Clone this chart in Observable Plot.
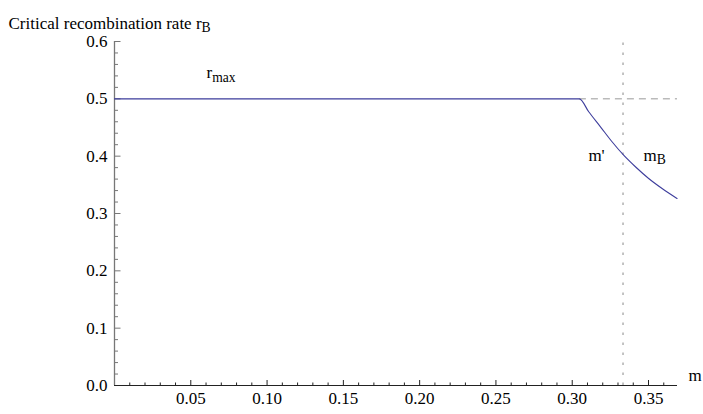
<!DOCTYPE html>
<html>
<head>
<meta charset="utf-8">
<script src="https://cdn.jsdelivr.net/npm/d3@7"></script>
<script src="https://cdn.jsdelivr.net/npm/@observablehq/plot@0.6"></script>
<style>
  html, body { margin: 0; padding: 0; background: #fff; }
  #chart svg { display: block; }
  #chart svg, #chart svg text, #chart svg g { font-family: "Liberation Serif", "Times New Roman", serif !important; }
</style>
</head>
<body>
<div id="chart"></div>
<script>
// ---- data ----
const titleText = "Critical recombination rate r_B";
const xLabelText = "m";
const curveM = [0, 0.3047, 0.3108, 0.3185, 0.3261, 0.3337, 0.3414, 0.3501, 0.3589, 0.3687];
const curveR = [0.5, 0.5, 0.4774, 0.4512, 0.4251, 0.4017, 0.3815, 0.3611, 0.3436, 0.3262];
const rMax = 0.5;
const mPrime = 0.3047;
const mB = 0.3333;
const xMax = 0.369;
const yMax = 0.6;
const xMajorTicks = [0.05, 0.10, 0.15, 0.20, 0.25, 0.30, 0.35];
const xMinorTicks = [0.01,0.02,0.03,0.04,0.06,0.07,0.08,0.09,0.11,0.12,0.13,0.14,0.16,0.17,0.18,0.19,0.21,0.22,0.23,0.24,0.26,0.27,0.28,0.29,0.31,0.32,0.33,0.34,0.36];
const yMajorTicks = [0.0, 0.1, 0.2, 0.3, 0.4, 0.5, 0.6];
const yMinorTicks = [0.02,0.04,0.06,0.08,0.12,0.14,0.16,0.18,0.22,0.24,0.26,0.28,0.32,0.34,0.36,0.38,0.42,0.44,0.46,0.48,0.52,0.54,0.56,0.58];
const labelText = ["r_max", "m'", "m_B"];
const labelM = [0.0603, 0.3106, 0.3467];
const labelR = [0.545, 0.401, 0.401];

const curve = curveM.map((m, i) => ({m, r: curveR[i]}));
const labels = labelText.map((t, i) => ({t, m: labelM[i], r: labelR[i]}));

const FONT = "'Liberation Serif', 'Times New Roman', serif";
const axisGray = "#777";

const svg = Plot.plot({
  width: 703,
  height: 414,
  marginLeft: 114,
  marginRight: 26,
  marginTop: 41,
  marginBottom: 29,
  style: {fontFamily: FONT, fontSize: "17px", color: "#000", background: "#fff", overflow: "visible"},
  x: {domain: [0, xMax]},
  y: {domain: [0, yMax]},
  marks: [
    // axis tick labels
    Plot.axisY({ticks: yMajorTicks, tickSize: 0, tickPadding: 7, tickFormat: d3.format(".1f"), label: null, fontSize: 17, fontFamily: FONT}),
    Plot.axisX({ticks: xMajorTicks, tickSize: 0, tickPadding: 6, tickFormat: d3.format(".2f"), label: null, fontSize: 17, fontFamily: FONT}),
    // y ticks (pointing right)
    Plot.ruleY(yMajorTicks, {y: d => d, x1: 0, x2: 0, insetRight: -6.5, stroke: axisGray, strokeWidth: 1}),
    Plot.ruleY(yMinorTicks, {y: d => d, x1: 0, x2: 0, insetRight: -4, stroke: axisGray, strokeWidth: 1}),
    // x ticks (pointing up)
    Plot.ruleX(xMajorTicks, {x: d => d, y1: 0, y2: 0, insetTop: -5, stroke: "#222", strokeWidth: 1}),
    Plot.ruleX(xMinorTicks, {x: d => d, y1: 0, y2: 0, insetTop: -2.5, stroke: "#222", strokeWidth: 1}),
    // axis lines
    Plot.ruleX([0], {stroke: axisGray, strokeWidth: 1.3}),
    Plot.ruleY([0], {stroke: "#222", strokeWidth: 1.1}),
    // reference lines
    Plot.ruleY([rMax], {x1: mPrime, x2: xMax, stroke: "#999", strokeWidth: 1, strokeDasharray: "7,5"}),
    Plot.ruleX([mB], {y1: 0, y2: yMax, stroke: "#888", strokeWidth: 1, strokeDasharray: "2.5,7.5"}),
    // curve
    Plot.line(curve, {x: "m", y: "r", stroke: "#3d3d9c", strokeWidth: 1.1, curve: "monotone-x"}),
    // annotations
    Plot.text(labels, {x: "m", y: "r", text: "t", textAnchor: "start", fontSize: 17, fontFamily: FONT, fill: "#000"}),
    Plot.text([xLabelText], {frameAnchor: "bottom-right", text: d => d, dx: 11, dy: -4.5, textAnchor: "start", fontSize: 17, fontFamily: FONT, fill: "#000"}),
    Plot.text([titleText], {frameAnchor: "top-left", text: d => d, dx: -106, dy: -25, textAnchor: "start", fontSize: 17, fontFamily: FONT, fill: "#000"})
  ]
});

// subscripts for "_" in labels
d3.select(svg).selectAll("text").each(function() {
  const t = this.textContent;
  if (!t.includes("_") || this.querySelector("tspan")) return;
  const [a, b] = t.split("_");
  const sel = d3.select(this);
  sel.text(null);
  sel.append("tspan").text(a);
  sel.append("tspan").attr("font-size", "80%").attr("dy", "0.25em").text(b);
});

document.getElementById("chart").appendChild(svg);
</script>
</body>
</html>
